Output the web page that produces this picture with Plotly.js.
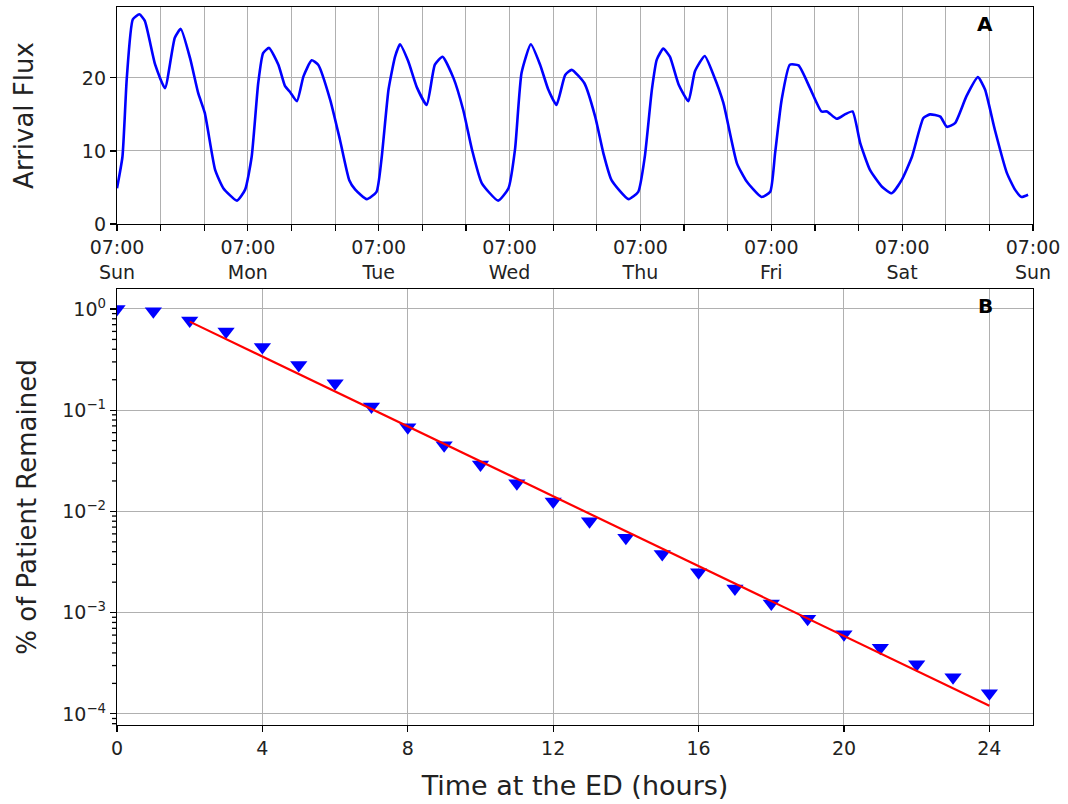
<!DOCTYPE html>
<html>
<head>
<meta charset="utf-8">
<script src="https://cdn.plot.ly/plotly-3.0.1.min.js"></script>
<style>html,body{margin:0;padding:0;background:#fff;}#chart{width:1068px;height:804px;}</style>
</head>
<body>
<div id="chart"></div>
<script>
// ---- Panel A data: arrival flux over one week (hours after Sun 07:00) ----
const fluxHours = [0, 1.0, 1.8, 2.9, 4.1, 5.1, 7.0, 8.8, 10.6, 11.7, 13.4, 14.9, 16.1, 18.0, 19.5, 22.0, 23.5,
  24.7, 25.9, 26.8, 27.9, 29.6, 30.8, 31.7, 33.0, 34.2, 35.7, 36.9, 39.1, 40.9, 42.6, 43.7, 45.8, 47.6,
  48.5, 49.8, 51.0, 51.9, 53.4, 55.0, 56.8, 58.3, 59.7, 61.7, 63.5, 65.1, 66.9, 69.9, 71.8,
  73.0, 74.2, 75.9, 77.6, 79.1, 80.6, 82.2, 83.4, 85.7, 87.7, 89.2, 90.7, 93.8, 95.6,
  96.8, 98.1, 99.0, 100.2, 101.4, 103.0, 104.8, 106.0, 107.8, 109.4, 111.2, 113.7, 115.5, 118.2, 119.8,
  120.7, 121.9, 123.4, 125.0, 127.1, 129.2, 130.2, 132.0, 133.5, 134.9, 136.3, 138.1, 140.3, 142.1, 143.9,
  145.8, 147.9, 149.1, 151.0, 152.2, 153.7, 155.8, 157.9, 159.2, 161.0, 163.2, 164.7, 165.9, 167.1];
const arrivalFlux = [4.9, 9.2, 20.0, 28.0, 28.7, 27.8, 21.8, 18.6, 25.5, 26.7, 22.7, 17.9, 15.2, 7.4, 4.9, 3.2, 4.7,
  9.2, 19.3, 23.4, 24.1, 21.8, 18.9, 18.1, 16.8, 20.2, 22.4, 21.8, 17.0, 11.5, 6.0, 4.7, 3.4, 4.4,
  8.8, 18.4, 22.9, 24.6, 22.3, 18.7, 16.3, 21.8, 22.9, 20.0, 15.6, 10.2, 5.6, 3.2, 4.9,
  10.2, 20.7, 24.6, 21.8, 18.4, 16.3, 20.4, 21.1, 19.3, 14.7, 9.7, 6.0, 3.4, 4.4,
  9.2, 18.4, 22.5, 24.0, 22.9, 19.1, 16.8, 20.9, 23.0, 20.4, 16.6, 8.3, 5.8, 3.7, 4.4,
  9.7, 17.0, 21.8, 21.7, 18.6, 15.4, 15.4, 14.4, 15.0, 15.4, 11.1, 7.4, 5.1, 4.2, 6.0,
  9.2, 14.5, 15.0, 14.7, 13.3, 13.8, 17.5, 20.1, 18.4, 12.9, 7.0, 4.7, 3.7, 4.0];
const dayLabels = ['Sun', 'Mon', 'Tue', 'Wed', 'Thu', 'Fri', 'Sat', 'Sun'];
const clockLabel = '07:00';

// ---- Panel B data: fraction of patients remaining vs time at ED ----
const edHours = [0, 1, 2, 3, 4, 5, 6, 7, 8, 9, 10, 11, 12, 13, 14, 15, 16, 17, 18, 19, 20, 21, 22, 23, 24];
const remaining = [1.0, 0.95, 0.77, 0.60, 0.42, 0.28, 0.185, 0.109, 0.068, 0.045, 0.029, 0.019, 0.0125,
  0.0080, 0.0055, 0.0038, 0.0025, 0.00173, 0.00123, 0.00087, 0.00061, 0.00045, 0.00031, 0.00023, 0.00016];
const fitHours = [2, 24];
const fitRemaining = [0.75, 0.00012];
const logTickValues = [1, 0.1, 0.01, 0.001, 0.0001];
const logTickLabels = ['10<sup>0</sup>', '10<sup>\u22121</sup>', '10<sup>\u22122</sup>', '10<sup>\u22123</sup>', '10<sup>\u22124</sup>'];
const edTickValues = [0, 4, 8, 12, 16, 20, 24];

const Y2_LOG_RANGE = [-4.11, 0.197];
const Y2_DOMAIN = [0, 0.6072];

// labelled ticks for panel A at 07:00 of each day; unlabelled minor ticks every 8 h
const weekTickVals = [];
const weekTickText = [];
for (let d = 0; d < dayLabels.length; d++) {
  weekTickVals.push(d * 24);
  weekTickText.push(clockLabel + '<br>' + dayLabels[d]);
}

// minor ticks (2..9 x each decade) on the log axis, drawn as short shapes left of the axis
const minorShapes = [];
for (let e = -5; e <= 0; e++) {
  for (let m = 2; m <= 9; m++) {
    const lv = Math.log10(m) + e;
    if (lv < Y2_LOG_RANGE[0] || lv > Y2_LOG_RANGE[1]) continue;
    const yp = Y2_DOMAIN[0] + (Y2_DOMAIN[1] - Y2_DOMAIN[0]) * (lv - Y2_LOG_RANGE[0]) / (Y2_LOG_RANGE[1] - Y2_LOG_RANGE[0]);
    minorShapes.push({type: 'line', xref: 'paper', yref: 'paper', x0: -5 / 916, x1: 0, y0: yp, y1: yp,
                      layer: 'above', line: {color: 'black', width: 1.3}});
  }
}

const FONT = 'DejaVu Sans, Liberation Sans, sans-serif';
const GRID = '#b0b0b0';

const traces = [
  {x: fluxHours, y: arrivalFlux, type: 'scatter', mode: 'lines', xaxis: 'x', yaxis: 'y',
   line: {color: '#0000ff', width: 2.6, shape: 'spline', smoothing: 0.5}, showlegend: false},
  {x: edHours, y: remaining, type: 'scatter', mode: 'markers', xaxis: 'x2', yaxis: 'y2',
   marker: {symbol: 'triangle-down', size: 15, color: '#0000ff'}, showlegend: false},
  {x: fitHours, y: fitRemaining, type: 'scatter', mode: 'lines', xaxis: 'x2', yaxis: 'y2',
   line: {color: '#ff0000', width: 2.2}, showlegend: false}
];

const axisCommon = {
  showline: true, linecolor: 'black', linewidth: 1.2, mirror: true,
  ticks: 'outside', ticklen: 6, tickwidth: 1.2, tickcolor: 'black',
  showgrid: true, gridcolor: GRID, gridwidth: 1, zeroline: false,
  tickfont: {family: FONT, size: 19, color: '#222'}
};

const layout = {
  width: 1068, height: 804,
  paper_bgcolor: 'white', plot_bgcolor: 'white',
  margin: {l: 117, r: 35, t: 7, b: 79},
  font: {family: FONT, color: '#222'},
  xaxis: Object.assign({}, axisCommon, {
    domain: [0, 1], anchor: 'y', range: [0, 168],
    tickmode: 'array', tickvals: weekTickVals, ticktext: weekTickText,
    minor: {tickmode: 'linear', tick0: 0, dtick: 8, ticks: 'outside', ticklen: 6, tickwidth: 1.2,
            tickcolor: 'black', showgrid: true, gridcolor: GRID, gridwidth: 1}
  }),
  yaxis: Object.assign({}, axisCommon, {
    domain: [0.6978, 1], anchor: 'x', range: [0, 29.7],
    tickmode: 'array', tickvals: [0, 10, 20],
    title: {text: 'Arrival Flux', font: {family: FONT, size: 26, color: '#222'}, standoff: 40}
  }),
  xaxis2: Object.assign({}, axisCommon, {
    domain: [0, 1], anchor: 'y2', range: [0, 25.2],
    tickmode: 'array', tickvals: edTickValues,
    title: {text: 'Time at the ED (hours)', font: {family: FONT, size: 27, color: '#222'}, standoff: 18}
  }),
  yaxis2: Object.assign({}, axisCommon, {
    domain: Y2_DOMAIN, anchor: 'x2', type: 'log', range: Y2_LOG_RANGE,
    tickmode: 'array', tickvals: logTickValues, ticktext: logTickLabels,
    title: {text: '% of Patient Remained', font: {family: FONT, size: 26, color: '#222'}, standoff: 18}
  }),
  shapes: minorShapes,
  annotations: [
    {text: '<b>A</b>', xref: 'paper', yref: 'paper', x: 0.9585, y: 0.977, yanchor: 'middle', showarrow: false,
     font: {family: FONT, size: 20, color: 'black'}},
    {text: '<b>B</b>', xref: 'paper', yref: 'paper', x: 0.9585, y: 0.583, yanchor: 'middle', showarrow: false,
     font: {family: FONT, size: 20, color: 'black'}}
  ]
};

Plotly.newPlot('chart', traces, layout, {staticPlot: true, displayModeBar: false});
</script>
</body>
</html>
